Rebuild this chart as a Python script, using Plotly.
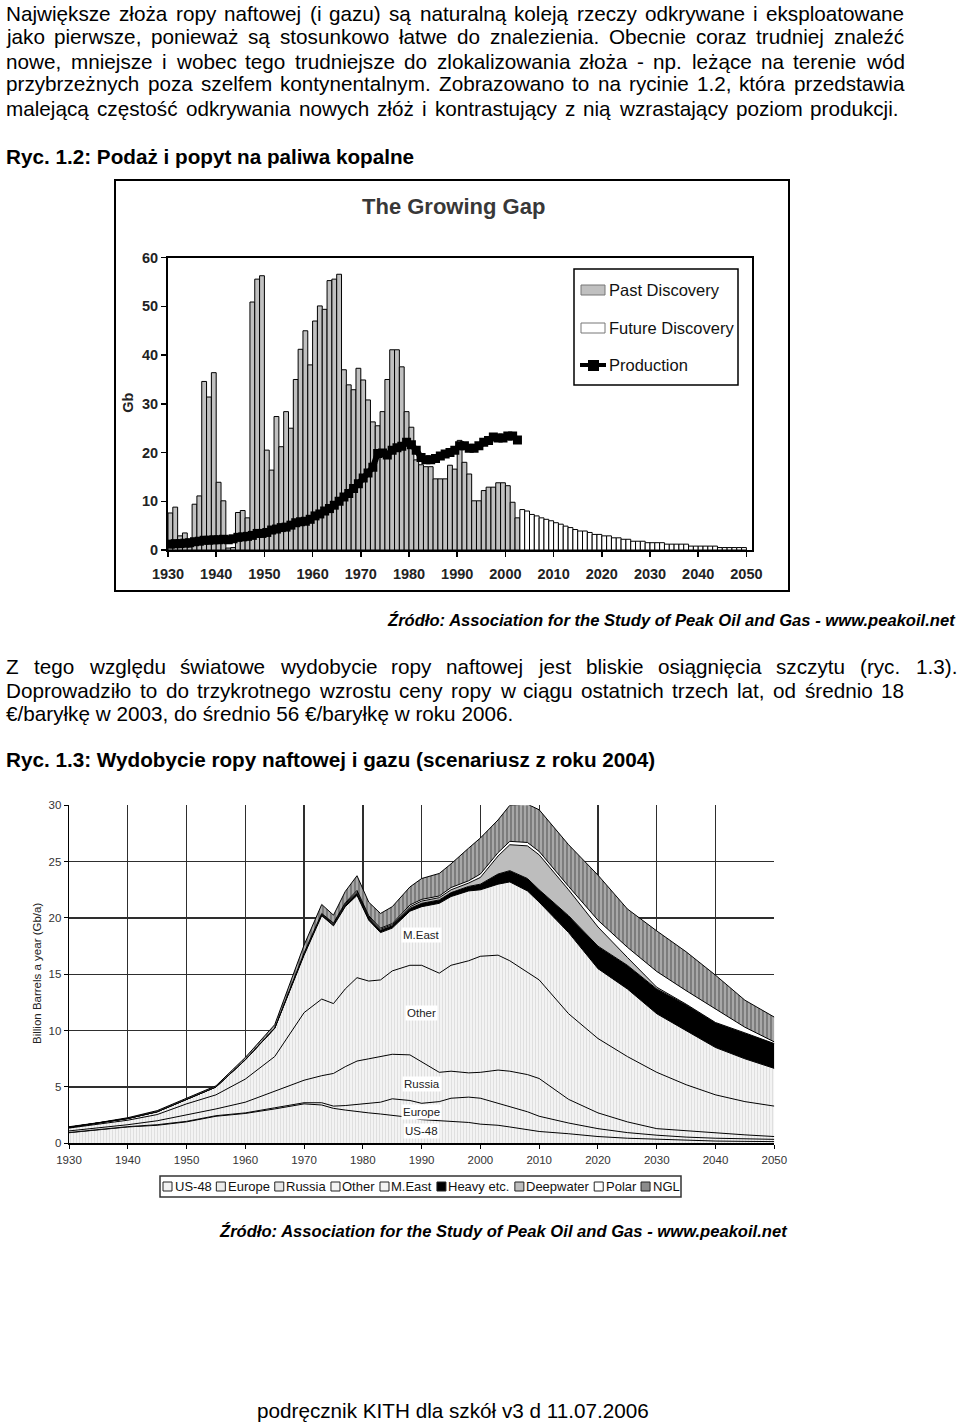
import unicodedata
import plotly.graph_objects as go

W, H = 960, 1424
FONT = "Liberation Sans, Arial, sans-serif"

# ---------------- Chart 1 data (The Growing Gap) ----------------
past_years = list(range(1930, 2003))
past_discovery = [7.6, 8.8, 2.9, 3.5, 0.6, 9.4, 11.1, 34.6, 31.4, 36.4,
                  13.9, 10.1, 0.4, 0.5, 7.7, 8.1, 6.6, 50.9, 55.6, 56.3,
                  20.5, 16.4, 27.4, 21.2, 28.4, 25.0, 35.0, 41.2, 45.0, 38.0,
                  47.0, 50.1, 49.4, 55.3, 55.6, 56.6, 37.0, 33.9, 32.9, 37.3,
                  34.9, 30.8, 26.3, 25.5, 28.4, 35.0, 41.1, 41.1, 37.6, 28.4,
                  25.2, 18.5, 17.5, 17.1, 17.1, 14.6, 14.6, 14.6, 17.4, 16.6,
                  22.5, 18.0, 15.6, 10.1, 10.1, 12.2, 12.9, 12.9, 13.8, 13.8,
                  13.2, 9.8, 6.6]
future_years = list(range(2003, 2050))
future_discovery = [8.3, 8.0, 7.3, 7.0, 6.6, 6.3, 6.0, 5.6, 5.3, 4.9,
                    4.6, 4.2, 3.9, 3.9, 3.6, 3.2, 3.2, 2.9, 2.9, 2.5,
                    2.5, 2.2, 2.2, 1.8, 1.8, 1.8, 1.5, 1.5, 1.5, 1.5,
                    1.2, 1.2, 1.2, 1.2, 1.2, 0.8, 0.8, 0.8, 0.8, 0.8,
                    0.8, 0.5, 0.5, 0.5, 0.5, 0.5, 0.5]
prod_years = list(range(1930, 2003))
production = [1.2, 1.3, 1.3, 1.4, 1.5, 1.7, 1.8, 2.0, 2.0, 2.1,
              2.1, 2.2, 2.1, 2.3, 2.6, 2.7, 2.8, 3.0, 3.4, 3.4,
              3.6, 4.1, 4.3, 4.6, 4.7, 5.1, 5.6, 5.8, 5.9, 6.3,
              7.0, 7.4, 8.0, 8.5, 9.2, 10.0, 10.9, 11.6, 12.6, 13.6,
              14.8, 15.8, 17.0, 19.8, 19.9, 19.5, 20.5, 21.0, 21.3, 22.1,
              21.6, 20.5, 19.0, 18.5, 18.5, 18.8, 19.3, 19.7, 20.0, 20.5,
              21.4, 21.4, 20.9, 20.9, 21.4, 22.1, 22.5, 23.2, 23.0, 23.0,
              23.4, 23.4, 22.6]
c1_xticks = list(range(1930, 2051, 10))

# ---------------- Chart 2 data (scenario 2004) ----------------
years2 = [1930, 1935, 1940, 1945, 1950, 1955, 1960, 1965, 1970, 1973, 1975, 1977,
          1979, 1981, 1983, 1985, 1988, 1990, 1993, 1995, 1998, 2000, 2003, 2005,
          2008, 2010, 2015, 2020, 2025, 2030, 2035, 2040, 2045, 2050]
us48 = [0.94, 1.2, 1.45, 1.6, 1.9, 2.4, 2.65, 3.05, 3.5, 3.4, 3.1, 2.95,
        2.8, 2.7, 2.6, 2.5, 2.3, 2.1, 2.0, 1.95, 1.85, 1.7, 1.6, 1.45,
        1.2, 1.05, 0.85, 0.6, 0.45, 0.35, 0.25, 0.2, 0.17, 0.15]
europe = [0.02, 0.02, 0.03, 0.05, 0.05, 0.05, 0.05, 0.1, 0.1, 0.2, 0.2, 0.4,
          0.65, 0.85, 1.05, 1.45, 1.5, 1.45, 1.7, 2.05, 2.25, 2.3, 1.95, 1.85,
          1.6, 1.35, 0.95, 0.7, 0.5, 0.37, 0.3, 0.25, 0.23, 0.2]
russia = [0.14, 0.13, 0.17, 0.35, 0.55, 0.6, 0.95, 1.45, 2.0, 2.4, 2.9, 3.45,
          3.85, 3.95, 4.05, 3.95, 4.05, 3.65, 2.6, 2.4, 2.15, 2.3, 2.95, 3.1,
          3.3, 3.35, 2.1, 1.4, 0.95, 0.58, 0.55, 0.45, 0.35, 0.25]
other = [0.25, 0.35, 0.4, 0.55, 1.0, 1.25, 2.05, 3.1, 6.0, 6.8, 6.2, 6.9,
         7.4, 6.9, 6.8, 7.4, 7.95, 8.6, 8.8, 9.4, 9.95, 10.3, 10.2, 9.8,
         9.1, 8.75, 7.6, 6.6, 5.8, 5.0, 4.1, 3.4, 2.95, 2.7]
meast = [0.07, 0.08, 0.15, 0.25, 0.4, 0.7, 1.7, 2.5, 5.1, 7.4, 6.9, 7.3,
         7.3, 5.4, 4.2, 3.8, 4.8, 5.2, 6.2, 6.1, 6.2, 5.9, 6.3, 7.0,
         7.2, 6.9, 7.2, 6.2, 6.0, 5.2, 4.8, 4.2, 3.8, 3.35]
heavy = [0, 0, 0, 0, 0, 0, 0.02, 0.03, 0.1, 0.1, 0.1, 0.15,
         0.2, 0.2, 0.2, 0.2, 0.25, 0.3, 0.3, 0.35, 0.4, 0.5, 0.9, 1.0,
         1.1, 1.1, 1.5, 2.0, 2.1, 2.2, 2.3, 2.2, 2.3, 2.2]
deepwater = [0, 0, 0, 0, 0, 0, 0, 0, 0.05, 0.05, 0.1, 0.1,
             0.15, 0.1, 0.1, 0.1, 0.15, 0.2, 0.2, 0.25, 0.3, 0.6, 1.6, 2.3,
             2.9, 3.1, 2.3, 1.7, 0.7, 0.15, 0.05, 0.02, 0, 0]
polar = [0, 0, 0, 0, 0, 0, 0, 0, 0.05, 0.05, 0.05, 0.1,
         0.1, 0.1, 0.1, 0.1, 0.15, 0.15, 0.15, 0.2, 0.2, 0.3, 0.3, 0.3,
         0.3, 0.3, 0.3, 0.6, 0.9, 1.4, 1.2, 1.2, 0.5, 0.15]
ngl = [0.05, 0.05, 0.07, 0.1, 0.1, 0.1, 0.2, 0.3, 0.7, 0.8, 0.7, 1.0,
       1.3, 1.2, 1.3, 1.5, 1.6, 1.85, 2.0, 2.1, 2.9, 3.2, 2.9, 3.2,
       3.4, 3.7, 3.7, 4.0, 3.4, 3.6, 3.45, 3.0, 2.4, 2.2]
series2_names = ["US-48", "Europe", "Russia", "Other", "M.East",
                 "Heavy etc.", "Deepwater", "Polar", "NGL"]
series2_values = [us48, europe, russia, other, meast, heavy, deepwater, polar, ngl]
region_labels = ["M.East", "Other", "Russia", "Europe", "US-48"]
region_label_y = [18.5, 11.6, 5.3, 2.75, 1.1]
region_label_x = 1990

# ---------------- Text ----------------
para1 = ["Największe złoża ropy naftowej (i gazu) są naturalną koleją rzeczy odkrywane i eksploatowane",
         "jako pierwsze, ponieważ są stosunkowo łatwe do znalezienia. Obecnie coraz trudniej znaleźć",
         "nowe, mniejsze i wobec tego trudniejsze do zlokalizowania złoża - np. leżące na terenie wód",
         "przybrzeżnych poza szelfem kontynentalnym. Zobrazowano to na rycinie 1.2, która przedstawia",
         "malejącą częstość odkrywania nowych złóż i kontrastujący z nią wzrastający poziom produkcji."]
para2 = ["Z tego względu światowe wydobycie ropy naftowej jest bliskie osiągnięcia szczytu (ryc. 1.3).",
         "Doprowadziło to do trzykrotnego wzrostu ceny ropy w ciągu ostatnich trzech lat, od średnio 18",
         "€/baryłkę w 2003, do średnio 56 €/baryłkę w roku 2006."]
head1 = "Ryc. 1.2: Podaż i popyt na paliwa kopalne"
head2 = "Ryc. 1.3: Wydobycie ropy naftowej i gazu (scenariusz z roku 2004)"
source = "Źródło: Association for the Study of Peak Oil and Gas - www.peakoil.net"
footer = "podręcznik KITH dla szkół v3 d 11.07.2006"

# ---------------- helpers ----------------
def px(x):
    return x / W


def py(y):
    return 1 - y / H


REG = {' ': 278, '(': 333, ')': 333, ',': 278, '-': 333, '.': 278, '/': 278, ':': 278,
       '€': 556,
       'A': 667, 'B': 667, 'C': 722, 'D': 722, 'E': 667, 'F': 611, 'G': 778, 'H': 722,
       'I': 278, 'J': 500, 'K': 667, 'L': 556, 'M': 833, 'N': 722, 'O': 778, 'P': 667,
       'Q': 778, 'R': 722, 'S': 667, 'T': 611, 'U': 722, 'V': 667, 'W': 944, 'X': 667,
       'Y': 667, 'Z': 611,
       'a': 556, 'b': 556, 'c': 500, 'd': 556, 'e': 556, 'f': 278, 'g': 556, 'h': 556,
       'i': 222, 'j': 222, 'k': 500, 'l': 222, 'm': 833, 'n': 556, 'o': 556, 'p': 556,
       'q': 556, 'r': 333, 's': 500, 't': 278, 'u': 556, 'v': 500, 'w': 722, 'x': 500,
       'y': 500, 'z': 500}
for d in '0123456789':
    REG[d] = 556


def base_char(c):
    if c == 'ł':
        return 'l'
    if c == 'Ł':
        return 'L'
    return unicodedata.normalize('NFD', c)[0]


def text_w(s, size):
    return sum(REG.get(base_char(c), 556) for c in s) * size / 1000.0


fig = go.Figure()

# ---------------- Chart 1 traces ----------------
fig.add_trace(go.Bar(x=past_years, y=past_discovery, width=1, offset=0,
                     marker=dict(color='#c0c0c0', line=dict(color='black', width=1)),
                     xaxis='x', yaxis='y', showlegend=False, hoverinfo='skip'))
fig.add_trace(go.Bar(x=future_years, y=future_discovery, width=1, offset=0,
                     marker=dict(color='white', line=dict(color='black', width=1)),
                     xaxis='x', yaxis='y', showlegend=False, hoverinfo='skip'))
fig.add_trace(go.Scatter(x=[yr + 0.5 for yr in prod_years], y=production,
                         mode='lines+markers', line=dict(color='black', width=6),
                         marker=dict(symbol='square', size=9, color='black'),
                         xaxis='x', yaxis='y', showlegend=False, hoverinfo='skip'))

# ---------------- Chart 2 traces ----------------
light_pat = dict(shape='|', fgcolor='#dcdcdc', bgcolor='#f3f3f3', size=3, solidity=0.3)
styles = [
    dict(fillcolor='#f3f3f3', fillpattern=light_pat),
    dict(fillcolor='#f3f3f3', fillpattern=light_pat),
    dict(fillcolor='#f3f3f3', fillpattern=light_pat),
    dict(fillcolor='#f3f3f3', fillpattern=light_pat),
    dict(fillcolor='#f3f3f3', fillpattern=light_pat),
    dict(fillcolor='black'),
    dict(fillcolor='#bdbdbd'),
    dict(fillcolor='white'),
    dict(fillcolor='#a0a0a0', fillpattern=dict(shape='|', fgcolor='#6a6a6a', bgcolor='#a8a8a8', size=4, solidity=0.35)),
]
for name, vals, st in zip(series2_names, series2_values, styles):
    fig.add_trace(go.Scatter(x=years2, y=vals, name=name, stackgroup='oil', mode='lines',
                             line=dict(color='black', width=1), xaxis='x2', yaxis='y2',
                             showlegend=False, hoverinfo='skip', **st))

for lab, ly in zip(region_labels, region_label_y):
    fig.add_annotation(x=region_label_x, y=ly, xref='x2', yref='y2', text=lab, showarrow=False,
                       font=dict(family=FONT, size=11.5, color='#222'), bgcolor='white', borderpad=1)

# ---------------- Layout axes ----------------
fig.update_layout(
    template='none',
    width=W, height=H, margin=dict(l=0, r=0, t=0, b=0, pad=0, autoexpand=False),
    paper_bgcolor='white', plot_bgcolor='white', barmode='overlay', showlegend=False,
    xaxis=dict(domain=[px(168), px(751.7)], range=[1930, 2051.1], anchor='y', automargin=False,
               tickvals=c1_xticks, showline=True, linecolor='black', linewidth=2, mirror=True,
               ticks='outside', ticklen=5, tickwidth=1.5, tickcolor='black', showgrid=False,
               zeroline=False, ticklabelstandoff=5,
               tickfont=dict(family=FONT, size=14.5, color='#222', weight='bold')),
    yaxis=dict(domain=[py(550), py(257.7)], range=[0, 60], dtick=10, anchor='x', automargin=False,
               showline=True, linecolor='black', linewidth=2, mirror=True,
               ticks='outside', ticklen=5, tickwidth=1.5, tickcolor='black', showgrid=False,
               zeroline=False,
               tickfont=dict(family=FONT, size=14.5, color='#222', weight='bold')),
    xaxis2=dict(domain=[px(69), px(774.3)], range=[1930, 2050], anchor='y2', dtick=10, tick0=1930,
                automargin=False,
                showline=True, linecolor='black', linewidth=1.3, ticks='outside', ticklen=4,
                tickcolor='black', showgrid=True, gridcolor='#2e2e2e', gridwidth=1.3,
                zeroline=False, ticklabelstandoff=2,
                tickfont=dict(family=FONT, size=11.5, color='#333')),
    yaxis2=dict(domain=[py(1143.3), py(805.3)], range=[0, 30], dtick=5, anchor='x2',
                automargin=False,
                showline=True, linecolor='black', linewidth=1.3, ticks='outside', ticklen=4,
                tickcolor='black', showgrid=True, gridcolor='#2e2e2e', gridwidth=1.3,
                zeroline=False,
                tickfont=dict(family=FONT, size=11.5, color='#333')),
)

shapes = []
# chart 1 outer frame
shapes.append(dict(type='rect', xref='paper', yref='paper', x0=px(115), x1=px(789), y0=py(591), y1=py(180),
                   line=dict(color='black', width=2)))
# chart 1 legend
shapes.append(dict(type='rect', xref='paper', yref='paper', x0=px(574), x1=px(738), y0=py(385), y1=py(269),
                   line=dict(color='black', width=1.5), fillcolor='white'))
shapes.append(dict(type='rect', xref='paper', yref='paper', x0=px(581), x1=px(605), y0=py(295), y1=py(285),
                   line=dict(color='#777', width=1), fillcolor='#c0c0c0'))
shapes.append(dict(type='rect', xref='paper', yref='paper', x0=px(581), x1=px(605), y0=py(333), y1=py(323),
                   line=dict(color='#777', width=1), fillcolor='white'))
shapes.append(dict(type='line', xref='paper', yref='paper', x0=px(580), x1=px(606), y0=py(365), y1=py(365),
                   line=dict(color='black', width=4)))
shapes.append(dict(type='rect', xref='paper', yref='paper', x0=px(588), x1=px(599), y0=py(371), y1=py(360),
                   line=dict(color='black', width=0), fillcolor='black'))
# chart 2 legend box
shapes.append(dict(type='rect', xref='paper', yref='paper', x0=px(160), x1=px(681), y0=py(1197), y1=py(1176),
                   line=dict(color='#333', width=1.5), fillcolor='white'))

leg2_fill = ['#f2f2f2', '#ececec', '#e6e6e6', '#f4f4f4', '#f4f4f4', 'black', '#bdbdbd', 'white', '#8c8c8c']
lx = 163.0
leg_size = 13
for name, fc in zip(series2_names, leg2_fill):
    shapes.append(dict(type='rect', xref='paper', yref='paper', x0=px(lx), x1=px(lx + 9),
                       y0=py(1191), y1=py(1182), line=dict(color='#222', width=1), fillcolor=fc))
    fig.add_annotation(x=px(lx + 10.5), y=py(1186.5), xref='paper', yref='paper', text=name,
                       showarrow=False, xanchor='left', yanchor='middle', borderpad=0,
                       font=dict(family=FONT, size=leg_size, color='#111'))
    lx += 11 + text_w(name, leg_size) + 5.5
fig.update_layout(shapes=shapes)


def ann(x, y, text, size, xanchor='left', bold=False, color='black', angle=0, italic=False):
    t = text
    if italic:
        t = '<i>' + t + '</i>'
    if bold:
        t = '<b>' + t + '</b>'
    fig.add_annotation(x=px(x), y=py(y), xref='paper', yref='paper', text=t, showarrow=False,
                       xanchor=xanchor, yanchor='middle', textangle=angle, borderpad=0,
                       font=dict(family=FONT, size=size, color=color))


def justify(text, y, x0, x1, size):
    words = text.split(' ')
    widths = [text_w(w, size) for w in words]
    gap = (x1 - x0 - sum(widths)) / (len(words) - 1)
    x = x0
    for w, ww in zip(words, widths):
        ann(x, y, w, size)
        x += ww + gap


FS = 20.7
p1_y = [13, 37, 61, 84, 108]
p1_right = [903, 903, 903, 903, 898]
for line, yy, xr in zip(para1, p1_y, p1_right):
    justify(line, yy, 5, xr, FS)
ann(5, 156, head1, FS, bold=True)

# chart 1 annotations
ann(453, 207, "The Growing Gap", 22, xanchor='center', bold=True, color='#383838')
ann(127.7, 403, "Gb", 14.5, xanchor='center', bold=True, color='#222', angle=-90)
ann(608, 290, "Past Discovery", 16.5, color='#111')
ann(608, 328, "Future Discovery", 16.5, color='#111')
ann(608, 365, "Production", 16.5, color='#111')
ann(957, 620, source, 16.6, xanchor='right', bold=True, italic=True)

justify(para2[0], 666, 5, 956, FS)
justify(para2[1], 690, 5, 903, FS)
ann(5, 713, para2[2], FS)
ann(5, 759, head2, FS, bold=True)

# chart 2 annotations
ann(37, 974, "Billion Barrels a year (Gb/a)", 11.5, xanchor='center', color='#222', angle=-90)
ann(503.5, 1231, source, 16.6, xanchor='center', bold=True, italic=True)
ann(453, 1410, footer, FS, xanchor='center')

fig.write_html("out.html",
               config={'displayModeBar': False, 'staticPlot': True},
               post_script="document.body.style.margin='0px';document.body.style.padding='0px';"
                           "document.body.style.overflow='hidden';")
